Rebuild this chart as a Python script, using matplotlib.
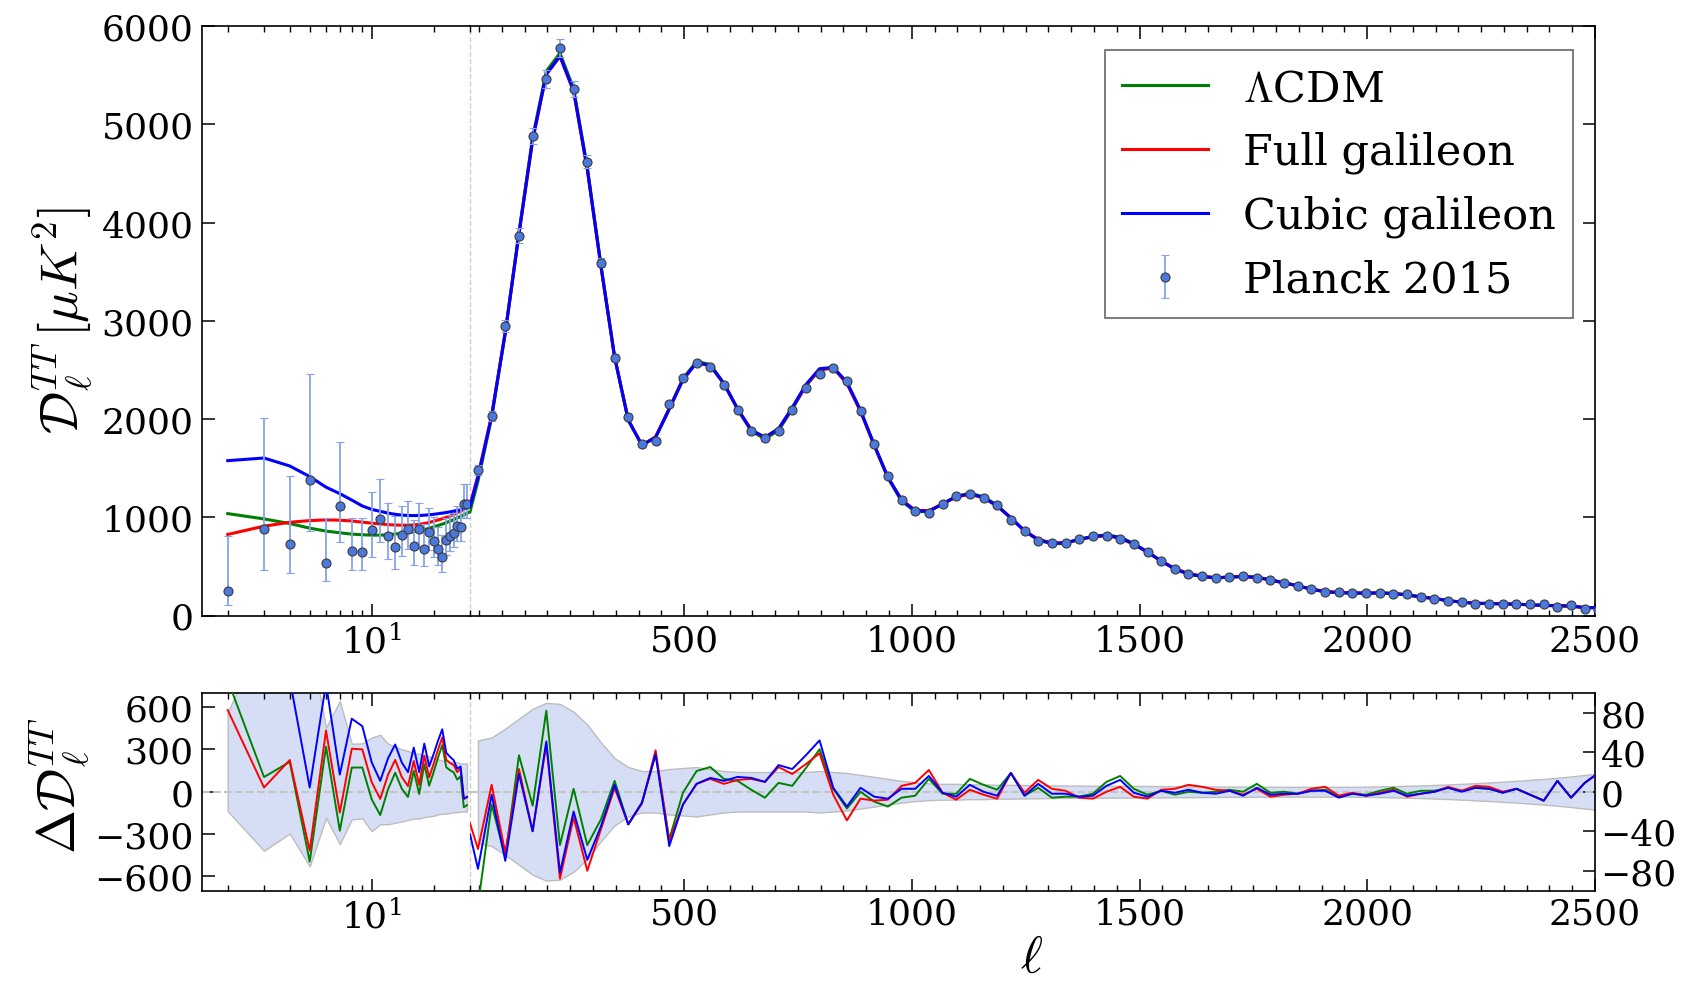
import numpy as np
import matplotlib
matplotlib.use("Agg")
import matplotlib.pyplot as plt
from matplotlib.ticker import FixedLocator, MultipleLocator, NullFormatter, LogLocator
from matplotlib.lines import Line2D

plt.rcParams['font.family'] = ['DejaVu Serif']
plt.rcParams['mathtext.fontset'] = 'cm'

# ---------------- data ----------------
# low-ell Planck 2015 points (ell = 2..29)
ell_low = np.arange(2, 30)
dl_low = np.array([246, 879, 724, 1384, 539, 1118, 657, 650, 872, 983, 805, 695, 815, 879,
                   704, 879, 680, 845, 761, 673, 599, 771, 808, 838, 906, 899, 1135, 1135])
err_low_minus = np.array([138, 418, 296, 529, 185, 371, 196, 189, 280, 230, 230, 220, 210, 200,
                          190, 190, 180, 175, 170, 160, 155, 155, 150, 145, 145, 140, 140, 140])
err_low_plus = np.array([562, 1134, 697, 1072, 454, 643, 340, 343, 384, 404, 340, 320, 300, 290,
                         270, 270, 250, 250, 240, 230, 220, 220, 210, 210, 210, 200, 200, 200])

# low-ell model curves (ell = 2..30)
ell_model_low = np.arange(2, 31)
lcdm_low = np.array([1037, 983, 936, 889, 859, 842, 828, 822, 818, 818, 822, 830, 836, 842, 852,
                     863, 875, 888, 902, 916, 930, 945, 960, 976, 992, 1008, 1025, 1040, 1056])
full_low = np.array([825, 909, 949, 966, 973, 970, 962, 950, 940, 932, 925, 921, 919, 919, 922,
                     928, 936, 947, 960, 972, 985, 998, 1012, 1027, 1045, 1063, 1082, 1100, 1125])
cubic_low = np.array([1576, 1603, 1522, 1414, 1306, 1240, 1175, 1115, 1080, 1060, 1042, 1030, 1022,
                      1018, 1017, 1018, 1021, 1025, 1030, 1036, 1042, 1048, 1055, 1062, 1070, 1078,
                      1087, 1097, 1110])

# high-ell binned Planck 2015 points (bins of width 30)
ell_bins = np.arange(47.5, 2510, 30.0)
dl_bins = np.array([1483, 2030, 2948, 3865, 4880, 5458, 5778, 5360, 4618, 3592,
                    2623, 2022, 1745, 1776, 2155, 2413, 2565, 2530, 2350, 2089,
                    1874, 1804, 1874, 2093, 2314, 2460, 2521, 2389, 2083, 1741,
                    1415, 1171, 1062, 1045, 1137, 1215, 1232, 1201, 1120, 974,
                    865, 763, 736, 740, 780, 807, 811, 780, 729, 651,
                    553, 475, 420, 398, 383, 390, 400, 383, 366, 333,
                    305, 265, 241, 238, 231, 231, 231, 221, 214, 190,
                    173, 146, 136, 119, 119, 119, 112, 112, 112, 88,
                    102, 71, 61])
sigma_bins = np.array([52, 55, 64, 74, 84, 90, 89, 81, 68, 50,
                       34, 25, 21, 21, 23, 24, 25, 23, 21, 20,
                       20, 20, 20, 20, 20, 21, 20, 19, 17, 15,
                       13, 11, 9.5, 8.5, 8, 8, 7.5, 7.5, 7, 7,
                       6.8, 6.6, 6.4, 6.3, 6.2, 6.1, 6, 6, 5.9, 5.8,
                       5.7, 5.6, 5.5, 5.4, 5.3, 5.2, 5.2, 5.1, 5.1, 5,
                       5, 5, 5, 5, 5, 5.2, 5.4, 5.7, 6, 6.4,
                       6.9, 7.4, 8, 8.7, 9.4, 10.2, 11, 12, 13, 14.2,
                       15.5, 17, 18.5])

# high-ell residuals (model - data), first entry at ell = 30
ell_res = np.concatenate([[30.0], ell_bins])
lcdm_res = np.array([-150, -115, -13, -66, 37, -14, 82, -54, 3, -54, -28,
                     11, -33, -11, 38, -48, -1, 21, 25, 13, 11,
                     2, -6, 9, 6, 24, 43, 3, -17, 0, -10,
                     -15, -6, -4, 13, -2, -2, 13, 7, 2, 19,
                     -4, 4, -6, -5, -5, -2, 10, 16, 3, -3,
                     1, -3, 0, -1, 0, 2, 0, 8, -1, 0,
                     -2, 1, 2, -5, -2, -3, 1, 4, -2, 1,
                     1, 4, 1, 4, 3, -1, 3, -3, -9, 11,
                     -6, 9, 19])
full_res = np.array([-32, -58, 7, -62, 23, -40, 48, -88, -26, -80, -38,
                     4, -33, -12, 42, -50, -13, 8, 13, 8, 12,
                     13, 10, 25, 18, 28, 39, -3, -29, -7, -9,
                     -8, 6, 9, 22, -1, -8, 2, -3, -7, 19,
                     -1, 12, 3, 1, -6, -7, 0, 5, -5, -7,
                     2, 3, 7, 5, 2, 1, -3, 3, -5, -3,
                     -2, 3, 5, -4, -1, -4, -1, 2, -5, -2,
                     0, 5, 1, 6, 5, 0, 3, -3, -9, 11,
                     -6, 9, 19])
cubic_res = np.array([-43, -78, -3, -70, 18, -40, 51, -82, -20, -69, -35,
                      7, -33, -11, 38, -55, -13, 8, 14, 11, 15,
                      14, 10, 27, 23, 37, 52, 4, -15, 4, -5,
                      -7, 3, 3, 16, -1, -5, 7, 0, -4, 19,
                      -4, 8, -2, -2, -5, -4, 6, 12, -1, -5,
                      1, -1, 2, -1, -2, 1, -4, 4, -3, -2,
                      -2, 1, 1, -6, -2, -4, -2, 1, -4, -2,
                      0, 4, 0, 4, 3, -1, 3, -3, -9, 11,
                      -6, 9, 19])

labels = [r'$\Lambda$CDM', 'Full galileon', 'Cubic galileon', 'Planck 2015']
colors = ['green', 'red', 'blue']

# ---------------- figure ----------------
fig = plt.figure(figsize=(16.89, 9.87), dpi=100)
W, H = 1689.0, 987.0
xL, xS, xR = 202 / W, 470 / W, 1595 / W
def fy(p):
    return 1 - p / H
tb, tt = fy(616.5), fy(27)
bb, bt = fy(891.5), fy(694)
axTL = fig.add_axes([xL, tb, xS - xL, tt - tb])
axTR = fig.add_axes([xS, tb, xR - xS, tt - tb])
axBL = fig.add_axes([xL, bb, xS - xL, bt - bb])
axBR = fig.add_axes([xS, bb, xR - xS, bt - bb])

TFS = 26
ebkw = dict(fmt='o', ms=6.5, mfc='#4a78dc', mec='#3a3a3a', mew=0.8,
            ecolor='#86a2ec', elinewidth=1.3, capsize=3, capthick=1.2, zorder=5)
bandc = '#d5def5'

# top-left (log part)
for y, c in zip([lcdm_low, full_low, cubic_low], colors):
    axTL.plot(ell_model_low, y, color=c, lw=2.2, zorder=3)
axTL.errorbar(ell_low, dl_low, yerr=[err_low_minus, err_low_plus], **ebkw)

# top-right (linear part)
handles = []
for low, res, c, lab in zip([lcdm_low, full_low, cubic_low], [lcdm_res, full_res, cubic_res], colors, labels):
    model_hi = np.concatenate([[low[-1]], dl_bins + res[1:]])
    h, = axTR.plot(ell_res, model_hi, color=c, lw=2.2, zorder=3, label=lab)
    handles.append(h)
eb = axTR.errorbar(ell_bins, dl_bins, yerr=sigma_bins, label=labels[3], **ebkw)
handles.append(eb)

# bottom-left residuals
axBL.fill_between(ell_low, -err_low_minus, err_low_plus, facecolor=bandc, edgecolor='#bdbdbd', lw=1, zorder=1)
axBL.axhline(0, ls='--', color='#c4c4c4', lw=1.5, zorder=2)
for low, c in zip([lcdm_low, full_low, cubic_low], colors):
    axBL.plot(ell_low, low[:-1] - dl_low, color=c, lw=1.4, zorder=3)

# bottom-right residuals
axBR.fill_between(ell_bins, -sigma_bins, sigma_bins, facecolor=bandc, edgecolor='#bdbdbd', lw=1, zorder=1)
axBR.axhline(0, ls='--', color='#c4c4c4', lw=1.5, zorder=2)
for res, c in zip([lcdm_res, full_res, cubic_res], colors):
    axBR.plot(ell_res, res, color=c, lw=1.4, zorder=3)

# ---------------- axes cosmetics ----------------
for ax in (axTL, axBL):
    ax.set_xscale('log')
    ax.set_xlim(1.5, 30)
    ax.xaxis.set_major_locator(FixedLocator([10]))
    ax.xaxis.set_minor_locator(LogLocator(base=10, subs=np.arange(2, 10)))
    ax.xaxis.set_minor_formatter(NullFormatter())
    ax.spines['right'].set_visible(False)
    ax.tick_params(which='both', direction='in', top=True, bottom=True, left=True, right=False,
                   labelsize=TFS, pad=6)
for ax in (axTR, axBR):
    ax.set_xlim(30, 2500)
    ax.xaxis.set_major_locator(FixedLocator([500, 1000, 1500, 2000, 2500]))
    ax.xaxis.set_minor_locator(MultipleLocator(50))
    ax.spines['left'].set_visible(False)
    ax.tick_params(which='both', direction='in', top=True, bottom=True, left=False, right=True,
                   labelleft=False, labelsize=TFS, pad=6)
for ax in (axTL, axTR, axBL, axBR):
    ax.tick_params(which='major', length=9, width=1.1)
    ax.tick_params(which='minor', length=4.5, width=1.0)
    for s in ax.spines.values():
        s.set_linewidth(1.2)
    ax.set_facecolor('none')

for ax in (axTL, axTR):
    ax.set_ylim(0, 6000)
    ax.yaxis.set_major_locator(FixedLocator([0, 1000, 2000, 3000, 4000, 5000, 6000]))
axTR.tick_params(labelright=False)

axBL.set_ylim(-700, 700)
axBL.yaxis.set_major_locator(FixedLocator([-600, -300, 0, 300, 600]))
axBR.set_ylim(-100, 100)
axBR.yaxis.set_major_locator(FixedLocator([-80, -40, 0, 40, 80]))
axBR.tick_params(labelright=True, pad=4)

# split line at ell = 30
for (y0, y1) in [(tb, tt), (bb, bt)]:
    fig.add_artist(Line2D([xS, xS], [y0, y1], transform=fig.transFigure,
                          ls='--', color='#cfcfcf', lw=1.0, zorder=0))

# labels
fig.text(63 / W, fy(321), r'$\mathcal{D}_\ell^{TT}\,[\mu K^2]$', rotation=90,
         ha='center', va='center', fontsize=38)
fig.text(60 / W, fy(786), r'$\Delta\mathcal{D}_\ell^{TT}$', rotation=90,
         ha='center', va='center', fontsize=38)
fig.text(1032 / W, fy(958), r'$\ell$', ha='center', va='center', fontsize=38)

leg = axTR.legend(handles, labels, loc='upper right', bbox_to_anchor=(0.9804, 0.9593),
                  borderaxespad=0, fontsize=31, handlelength=2.0, handletextpad=0.8,
                  labelspacing=0.5, borderpad=0.4, fancybox=False, framealpha=1,
                  edgecolor='0.4')
leg.get_frame().set_linewidth(1.2)

fig.savefig('out.png', dpi=100)
